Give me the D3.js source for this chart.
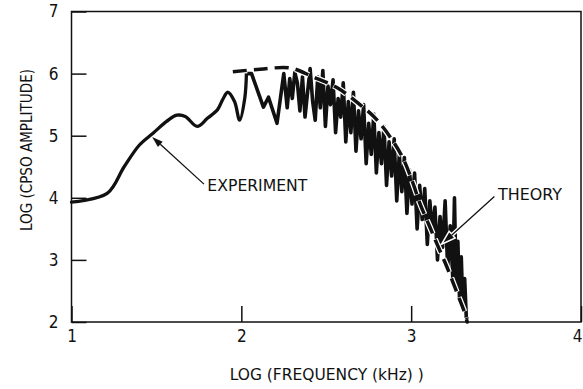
<!DOCTYPE html>
<html>
<head>
<meta charset="utf-8">
<script src="https://cdn.jsdelivr.net/npm/d3@7"></script>
<style>
  html, body { margin: 0; padding: 0; background: #fff; }
  svg { display: block; }
  text { font-family: "Liberation Sans Narrow", "DejaVu Sans Condensed", "Liberation Sans", sans-serif; fill: #111; }
</style>
</head>
<body>
<div id="chart"></div>
<script>
// tick values
const xTicks = [1, 2, 3, 4];
const yTicks = [2, 3, 4, 5, 6, 7];

// experiment: log frequency (kHz) vs log cpso amplitude
const expLogF = [1.00, 1.21, 1.31, 1.40, 1.48, 1.56, 1.62, 1.67, 1.74, 1.80, 1.86, 1.89, 1.92, 1.96, 1.99, 2.02, 2.03,
  2.06, 2.13, 2.16, 2.21, 2.25,
  2.27, 2.285, 2.30, 2.315, 2.33, 2.345, 2.36, 2.375, 2.39, 2.405, 2.42, 2.435, 2.45, 2.465, 2.48, 2.495,
  2.51, 2.525, 2.54, 2.555, 2.57, 2.585, 2.60, 2.615, 2.63, 2.645, 2.66, 2.675, 2.69, 2.705, 2.72, 2.735,
  2.75, 2.765, 2.78, 2.795, 2.81, 2.825, 2.84, 2.855, 2.87, 2.885, 2.90, 2.915, 2.93, 2.945, 2.96, 2.975,
  2.99, 3.005, 3.02, 3.035, 3.05, 3.065, 3.08, 3.095, 3.11, 3.125, 3.14, 3.155, 3.17, 3.185, 3.20, 3.215,
  3.23, 3.245, 3.255, 3.265, 3.275, 3.285, 3.295, 3.305, 3.315, 3.325, 3.33];
const expLogA = [3.93, 4.07, 4.50, 4.85, 5.04, 5.23, 5.33, 5.31, 5.15, 5.28, 5.42, 5.58, 5.70, 5.55, 5.25, 5.60, 6.00,
  6.00, 5.46, 5.62, 5.20, 6.00,
  5.45, 5.92, 5.60, 6.02, 5.85, 5.40, 5.95, 5.30, 5.70, 6.08, 5.55, 5.25, 5.95, 5.45, 6.05, 5.15,
  5.80, 5.50, 5.90, 5.05, 5.60, 5.30, 5.85, 4.90, 5.55, 5.05, 5.70, 4.75, 5.40, 4.95, 5.50, 4.55,
  5.20, 4.70, 5.35, 4.40, 5.05, 4.55, 5.15, 4.20, 4.90, 4.35, 4.95, 3.95, 4.70, 4.10, 4.65, 3.75,
  4.45, 3.90, 4.40, 3.50, 4.20, 3.65, 4.15, 3.25, 3.95, 3.45, 3.85, 3.00, 3.70, 3.20, 3.95, 2.85,
  3.55, 2.70, 4.00, 2.55, 3.30, 2.35, 3.05, 2.20, 2.70, 2.05, 2.00];

// theory
const theoryLogF = [1.95, 2.11, 2.29, 2.42, 2.56, 2.68, 2.80, 2.94, 3.01, 3.05, 3.11, 3.15, 3.21, 3.27, 3.33];
const theoryLogA = [6.03, 6.07, 6.09, 5.95, 5.78, 5.54, 5.25, 4.70, 4.24, 3.92, 3.53, 3.27, 2.89, 2.47, 2.05];

const W = 583, H = 389;
const x = d3.scaleLinear().domain([1, 4]).range([71.5, 581]);
const y = d3.scaleLinear().domain([2, 7]).range([322, 11.5]);

const svg = d3.select("#chart").append("svg")
  .attr("width", W).attr("height", H);

// frame
svg.append("rect")
  .attr("x", x(1)).attr("y", y(7))
  .attr("width", x(4) - x(1)).attr("height", y(2) - y(7))
  .attr("fill", "none").attr("stroke", "#111").attr("stroke-width", 1.5);

// axes
const yAxis = svg.append("g")
  .attr("transform", "translate(" + x(1) + ",0)")
  .call(d3.axisLeft(y).tickValues(yTicks).tickFormat(d3.format("d"))
    .tickSize(-15).tickSizeOuter(0).tickPadding(13));
const xAxis = svg.append("g")
  .attr("transform", "translate(0," + y(2) + ")")
  .call(d3.axisBottom(x).tickValues(xTicks).tickFormat(d3.format("d"))
    .tickSize(-16).tickSizeOuter(0).tickPadding(8));

[yAxis, xAxis].forEach(function(g){
  g.select(".domain").remove();
  g.selectAll(".tick line").attr("stroke", "#111").attr("stroke-width", 1.5);
  g.selectAll(".tick text").style("font-size", "17px").attr("fill", "#111")
    .style("font-family", "\"Liberation Sans Narrow\", \"DejaVu Sans Condensed\", \"Liberation Sans\", sans-serif");
});
xAxis.selectAll(".tick text").filter(function(d){ return d === 4; }).attr("dx", -4);

// axis titles
svg.append("text")
  .attr("x", (x(1) + x(4)) / 2 + 0.5).attr("y", 380)
  .attr("text-anchor", "middle")
  .attr("textLength", 194).attr("lengthAdjust", "spacingAndGlyphs")
  .style("font-size", "16.5px")
  .text("LOG (FREQUENCY (kHz) )");

svg.append("text")
  .attr("transform", "translate(32,150) rotate(-90)")
  .attr("text-anchor", "middle")
  .attr("textLength", 162).attr("lengthAdjust", "spacingAndGlyphs")
  .style("font-size", "16.5px")
  .text("LOG (CPSO AMPLITUDE)");

// curves
const expData = expLogF.map(function(f, i){ return [f, expLogA[i]]; });
const theoryData = theoryLogF.map(function(f, i){ return [f, theoryLogA[i]]; });
const smoothEnd = expLogF.indexOf(2.03);

const smoothLine = d3.line()
  .x(function(d){ return x(d[0]); })
  .y(function(d){ return y(d[1]); })
  .curve(d3.curveCatmullRom.alpha(0.5));
const rawLine = d3.line()
  .x(function(d){ return x(d[0]); })
  .y(function(d){ return y(d[1]); });

[expData.slice(0, smoothEnd + 1), expData.slice(smoothEnd)].forEach(function(seg, i){
  svg.append("path")
    .datum(seg)
    .attr("d", i === 0 ? smoothLine : rawLine)
    .attr("fill", "none")
    .attr("stroke", "#111")
    .attr("stroke-width", i === 0 ? 3.3 : 3.6)
    .attr("stroke-linejoin", "round")
    .attr("stroke-linecap", "round");
});

// theory drawn over the experiment, with a white edge where it crosses it
svg.append("path")
  .datum(theoryData)
  .attr("d", smoothLine)
  .attr("fill", "none")
  .attr("stroke", "#fff")
  .attr("stroke-width", 6)
  .attr("stroke-dasharray", "15,6")
  .attr("stroke-dashoffset", 0.5);
svg.append("path")
  .datum(theoryData)
  .attr("d", smoothLine)
  .attr("fill", "none")
  .attr("stroke", "#111")
  .attr("stroke-width", 3.5)
  .attr("stroke-dasharray", "14,7");

// annotations
function arrow(from, to, halo){
  const x1 = x(from[0]), y1 = y(from[1]), x2 = x(to[0]), y2 = y(to[1]);
  const a = Math.atan2(y2 - y1, x2 - x1);
  const len = 11, wid = 3.5;
  const bx = x2 - len * Math.cos(a), by = y2 - len * Math.sin(a);
  const head = [[x2, y2],
    [bx + wid * Math.sin(a), by - wid * Math.cos(a)],
    [bx - wid * Math.sin(a), by + wid * Math.cos(a)]];
  const g = svg.append("g");
  if (halo) {
    g.append("line").attr("x1", x1).attr("y1", y1).attr("x2", bx).attr("y2", by)
      .attr("stroke", "#fff").attr("stroke-width", 4);
    g.append("polygon").attr("points", head.join(" "))
      .attr("fill", "#fff").attr("stroke", "#fff").attr("stroke-width", 3);
  }
  g.append("line").attr("x1", x1).attr("y1", y1).attr("x2", bx).attr("y2", by)
    .attr("stroke", "#111").attr("stroke-width", 1.3);
  g.append("polygon").attr("points", head.join(" ")).attr("fill", "#111");
}

arrow([1.78, 4.22], [1.475, 4.98], false);
svg.append("text")
  .attr("x", x(1.80)).attr("y", 191)
  .attr("textLength", 100).attr("lengthAdjust", "spacingAndGlyphs")
  .style("font-size", "16.5px")
  .text("EXPERIMENT");

arrow([3.49, 4.02], [3.19, 3.28], true);
svg.append("text")
  .attr("x", 498).attr("y", 200)
  .attr("textLength", 64).attr("lengthAdjust", "spacingAndGlyphs")
  .style("font-size", "16.5px")
  .text("THEORY");
</script>
</body>
</html>
